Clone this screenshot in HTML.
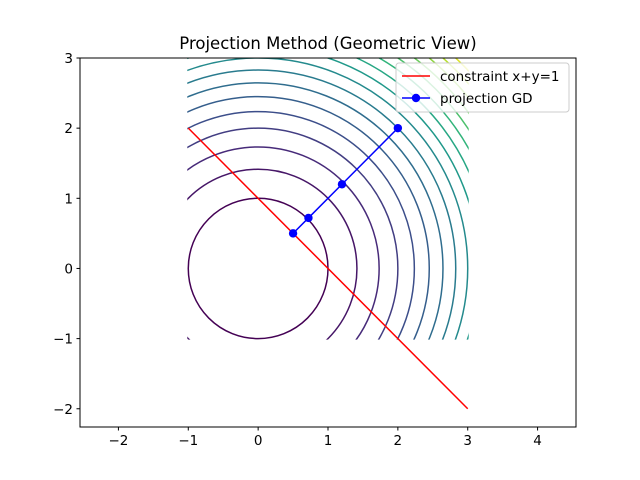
<!DOCTYPE html>
<html><head><meta charset="utf-8"><style>
html,body{margin:0;padding:0;background:#fff;width:640px;height:480px;overflow:hidden}
svg{display:block;font-family:"DejaVu Sans","Liberation Sans",sans-serif}
</style></head><body>
<svg id="c" width="640" height="480" viewBox="0 0 640 480">
<defs><clipPath id="dom"><rect id="domrect" x="0" y="0" width="0" height="0"/></clipPath>
<clipPath id="ax"><rect x="80" y="58" width="496" height="369"/></clipPath></defs>
<rect x="0" y="0" width="640" height="480" fill="#fff"/>
<text x="328" y="49" text-anchor="middle" font-size="16.5" fill="#000">Projection Method (Geometric View)</text>
<g id="contours" clip-path="url(#dom)"></g>
<g id="series" clip-path="url(#ax)"></g>
<rect x="80" y="58" width="496" height="369" fill="none" stroke="#000" stroke-width="1"/>
<g id="ticks"></g>
<g id="legend">
<rect x="396" y="63" width="173" height="49" fill="#fff" fill-opacity="0.8" stroke="#ccc" rx="3"/>
<line x1="402" y1="76" x2="430" y2="76" stroke="red" stroke-width="1.5"/>
<text x="440" y="81" font-size="13.5">constraint x+y=1</text>
<line x1="402" y1="98" x2="430" y2="98" stroke="blue" stroke-width="1.5"/>
<circle cx="416" cy="98" r="4.2" fill="blue"/>
<text x="440" y="103" font-size="13.5">projection GD</text>
</g>
</svg>
<script>
const xTicks=[-2,-1,0,1,2,3,4];
const yTicks=[-2,-1,0,1,2,3];
const levels=[1,2,3,4,5,6,7,8,9,10,11,12,13,14,15,16,17];
const constraintX=[-1,3];
const constraintY=[2,-2];
const gdX=[2,1.2,0.72,0.5];
const gdY=[2,1.2,0.72,0.5];
const domainX=[-1,3], domainY=[-1,3];
const xmin=-2.55,xmax=4.55,ymin=-2.26,ymax=3;
const L=80,R=576,T=58,B=427;
const sx=v=>L+(v-xmin)/(xmax-xmin)*(R-L);
const sy=v=>B-(v-ymin)/(ymax-ymin)*(B-T);
const NS="http://www.w3.org/2000/svg";
function mk(t,a,p){const e=document.createElementNS(NS,t);for(const k in a)e.setAttribute(k,a[k]);p.appendChild(e);return e;}
const vir=[[68,1,84],[72,40,120],[62,74,137],[49,104,142],[38,130,142],[31,158,137],[53,183,121],[109,205,89],[180,222,44],[253,231,37]];
function viridis(t){const p=t*(vir.length-1),i=Math.min(Math.floor(p),vir.length-2),f=p-i;const c=vir[i].map((v,k)=>Math.round(v+(vir[i+1][k]-v)*f));return `rgb(${c})`;}
const dr=document.getElementById('domrect');
dr.setAttribute('x',sx(domainX[0])-1);dr.setAttribute('y',sy(domainY[1]));
dr.setAttribute('width',sx(domainX[1])-sx(domainX[0])+2);dr.setAttribute('height',sy(domainY[0])-sy(domainY[1])+1);
const cg=document.getElementById('contours');
const lmin=Math.min(...levels),lmax=Math.max(...levels);
levels.forEach(l=>{
 const r=Math.sqrt(l);
 const e=mk('ellipse',{cx:sx(0),cy:sy(0),rx:sx(r)-sx(0),ry:sy(0)-sy(r),fill:'none',stroke:viridis((l-lmin)/(lmax-lmin)*0.95),'stroke-width':1.5},cg);
 
 
});
const sg=document.getElementById('series');
const cl=mk('line',{x1:sx(constraintX[0]),y1:sy(constraintY[0]),x2:sx(constraintX[1]),y2:sy(constraintY[1]),stroke:'red','stroke-width':1.5},sg);


const pl=mk('polyline',{points:gdX.map((x,i)=>sx(x)+','+sy(gdY[i])).join(' '),fill:'none',stroke:'blue','stroke-width':1.5},sg);


gdX.forEach((x,i)=>{const c=mk('circle',{cx:sx(x),cy:sy(gdY[i]),r:4.2,fill:'blue'},sg);
 
 });
const tg=document.getElementById('ticks');
const lab=v=>v<0?'\u2212'+(-v):''+v;
xTicks.forEach(v=>{const x=sx(v);mk('line',{x1:x,y1:B,x2:x,y2:B+3.5,stroke:'#000'},tg);
 const t=mk('text',{x:x,y:B+18,'text-anchor':'middle','font-size':13.5},tg);t.textContent=lab(v);
 
 });
yTicks.forEach(v=>{const y=sy(v);mk('line',{x1:L,y1:y,x2:L-3.5,y2:y,stroke:'#000'},tg);
 const t=mk('text',{x:L-7,y:y+5,'text-anchor':'end','font-size':13.5},tg);t.textContent=lab(v);
 
 });
</script>
</body></html>
